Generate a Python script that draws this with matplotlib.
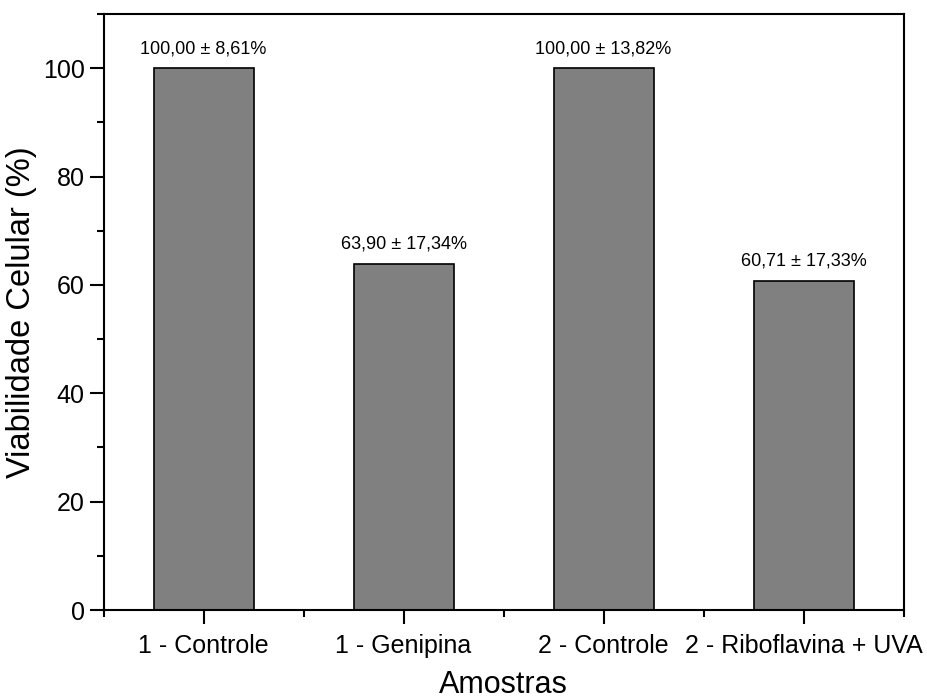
import numpy as np
import matplotlib
matplotlib.use("Agg")
import matplotlib.pyplot as plt
from matplotlib.ticker import MultipleLocator, FixedLocator

plt.rcParams['font.family'] = ['Liberation Sans', 'DejaVu Sans']

# data
amostras = ['1 - Controle', '1 - Genipina', '2 - Controle', '2 - Riboflavina + UVA']
viabilidade = [100.00, 63.90, 100.00, 60.71]
desvio = [8.61, 17.34, 13.82, 17.33]

x = np.arange(1, len(amostras) + 1)

fig = plt.figure(figsize=(9.27, 6.99), dpi=100)
ax = fig.add_axes([0.1117, 0.1273, 0.863, 0.8527])

ax.bar(x, viabilidade, width=0.5, color='#808080', edgecolor='black', linewidth=1.2)

# value labels above bars
for xi, v, d in zip(x, viabilidade, desvio):
    txt = '{:.2f} ± {:.2f}%'.format(v, d).replace('.', ',')
    ax.annotate(txt, (xi, v), xytext=(0, 8), textcoords='offset points',
                ha='center', va='bottom', fontsize=13)

ax.set_xlim(0.5, 4.5)
ax.set_ylim(0, 110)

ax.set_xticks(x)
ax.set_xticklabels(amostras)
ax.xaxis.set_minor_locator(FixedLocator([0.5, 1.5, 2.5, 3.5, 4.5]))
ax.yaxis.set_major_locator(MultipleLocator(20))
ax.yaxis.set_minor_locator(MultipleLocator(10))

ax.tick_params(axis='both', which='major', direction='out', length=10, width=1.5,
               labelsize=18, top=False, right=False)
ax.tick_params(axis='both', which='minor', direction='out', length=5, width=1.5,
               top=False, right=False)
ax.tick_params(axis='x', which='major', pad=7)

for s in ax.spines.values():
    s.set_linewidth(1.5)

ax.set_xlabel('Amostras', fontsize=22, labelpad=9)
ax.set_ylabel('Viabilidade Celular (%)', fontsize=23.5, labelpad=4)

fig.savefig('out.png', dpi=100)
